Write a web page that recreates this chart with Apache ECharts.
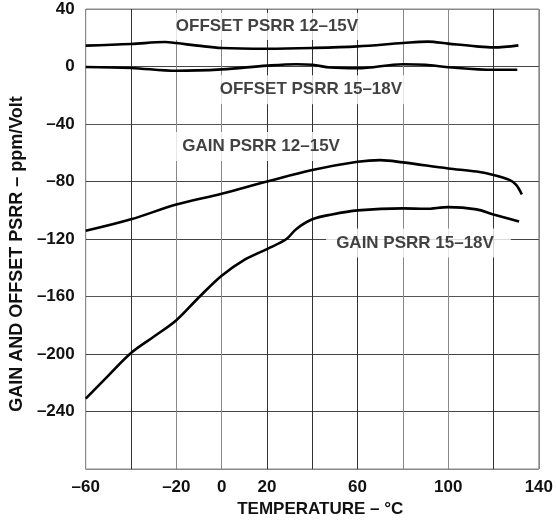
<!DOCTYPE html>
<html>
<head>
<meta charset="utf-8">
<script src="https://cdn.jsdelivr.net/npm/echarts@6/dist/echarts.min.js"></script>
<style>
html,body{margin:0;padding:0;background:#fff;}
#c{width:556px;height:524px;}
</style>
</head>
<body>
<div id="c"></div>
<script>
// Temperature (°C) / PSRR (ppm/Volt) readings
const offset1215 = [[-60,14.5],[-40,15.6],[-25,17.0],[-20,16.3],[-10.5,14.5],[0,12.9],[20,12.4],[40,12.9],[60,14.0],[80,16.3],[91,17.3],[100,15.9],[112.5,14.0],[120,13.3],[131,14.7]];
const offset1518 = [[-60,-0.3],[-40,-1.0],[-20,-3.0],[0,-2.0],[20,0.6],[33,1.6],[40,1.2],[48,-0.7],[60,-1.2],[80,1.6],[90,1.2],[100,-0.5],[120,-2.3],[130.5,-2.3]];
const gain1215 = [[-60,-114.3],[-40,-106.3],[-20,-96],[0,-88.5],[20,-80],[40,-72],[60,-66.3],[70,-65.1],[80,-66.7],[100,-70.9],[112.5,-73.1],[120,-75.4],[127,-78.9],[130,-82.3],[132.5,-89]];
const gain1518 = [[-60,-231],[-50,-215],[-40,-199.3],[-30,-188],[-20,-176.5],[-10,-160.5],[0,-145.5],[10,-134.5],[20,-127],[28.6,-120],[33,-113],[40,-106.3],[48.7,-102.9],[60,-100.1],[80,-98.7],[90,-99],[100,-97.8],[112.5,-99.4],[120,-102.9],[131.3,-107.9]];
const seriesNames = ['OFFSET PSRR 12–15V','OFFSET PSRR 15–18V','GAIN PSRR 12–15V','GAIN PSRR 15–18V'];
const labelPoints = [[20,27.8],[39.4,-16.1],[17.4,-55.6],[86.9,-122.8]];
const xTickShown = [-60,-20,0,20,60,100,140];
const yTickHidden = [-280];

const dash = v => (v < 0 ? '–' + Math.abs(v) : String(v));
const font = 'Liberation Sans, Arial, Helvetica, sans-serif';
const lineStyle = {color:'#000', width:2.6};
const mk = (name, data) => ({name, type:'line', data, smooth:0.35, symbol:'none', lineStyle, z:4});
const labelPads = [[8,9,2,9],[6,9,6,9],[6,9,6,9],[6,17,6,10]];

const chart = echarts.init(document.getElementById('c'), null, {renderer:'canvas'});
chart.setOption({
  animation:false,
  backgroundColor:'#fff',
  grid:{left:83,right:13,top:9,bottom:55,show:true,borderColor:'#888',borderWidth:1},
  xAxis:{
    type:'value',min:-60,max:140,interval:20,
    axisLine:{show:false},axisTick:{show:false},
    splitLine:{show:true,lineStyle:{width:1,color:['#888','#333','#888','#888','#333','#333','#333','#888','#888','#333','#888']}},
    axisLabel:{margin:10,fontFamily:font,fontWeight:'bold',fontSize:17,color:'#111',
      formatter:v => xTickShown.includes(v) ? dash(v) : ''},
    name:'TEMPERATURE – °C',nameLocation:'middle',nameGap:31,
    nameTextStyle:{fontFamily:font,fontWeight:'bold',fontSize:17,color:'#111',padding:[0,0,0,16]}
  },
  yAxis:{
    type:'value',min:-280,max:40,interval:40,
    axisLine:{show:false},axisTick:{show:false},
    splitLine:{show:true,lineStyle:{width:1,color:['#888','#444','#444','#555','#444','#444','#555','#444','#888']}},
    axisLabel:{margin:11,fontFamily:font,fontWeight:'bold',fontSize:17,color:'#111',
      formatter:v => yTickHidden.includes(v) ? '' : dash(v)},
    name:'GAIN AND OFFSET PSRR – ppm/Volt',nameLocation:'middle',nameGap:56,
    nameTextStyle:{fontFamily:font,fontWeight:'bold',fontSize:18,color:'#111',padding:[0,30,0,0]}
  },
  series:[
    mk(seriesNames[0], offset1215),
    mk(seriesNames[1], offset1518),
    mk(seriesNames[2], gain1215),
    mk(seriesNames[3], gain1518),
    {
      type:'scatter',symbolSize:0,z:2,silent:true,
      data:labelPoints.map((p,i)=>({value:p,name:seriesNames[i],label:{padding:labelPads[i]}})),
      label:{show:true,position:'inside',formatter:p=>p.name,
        fontFamily:font,fontWeight:'bold',fontSize:17,color:'#111',
        backgroundColor:'#fff',padding:[6,9]}
    }
  ]
});
</script>
</body>
</html>
